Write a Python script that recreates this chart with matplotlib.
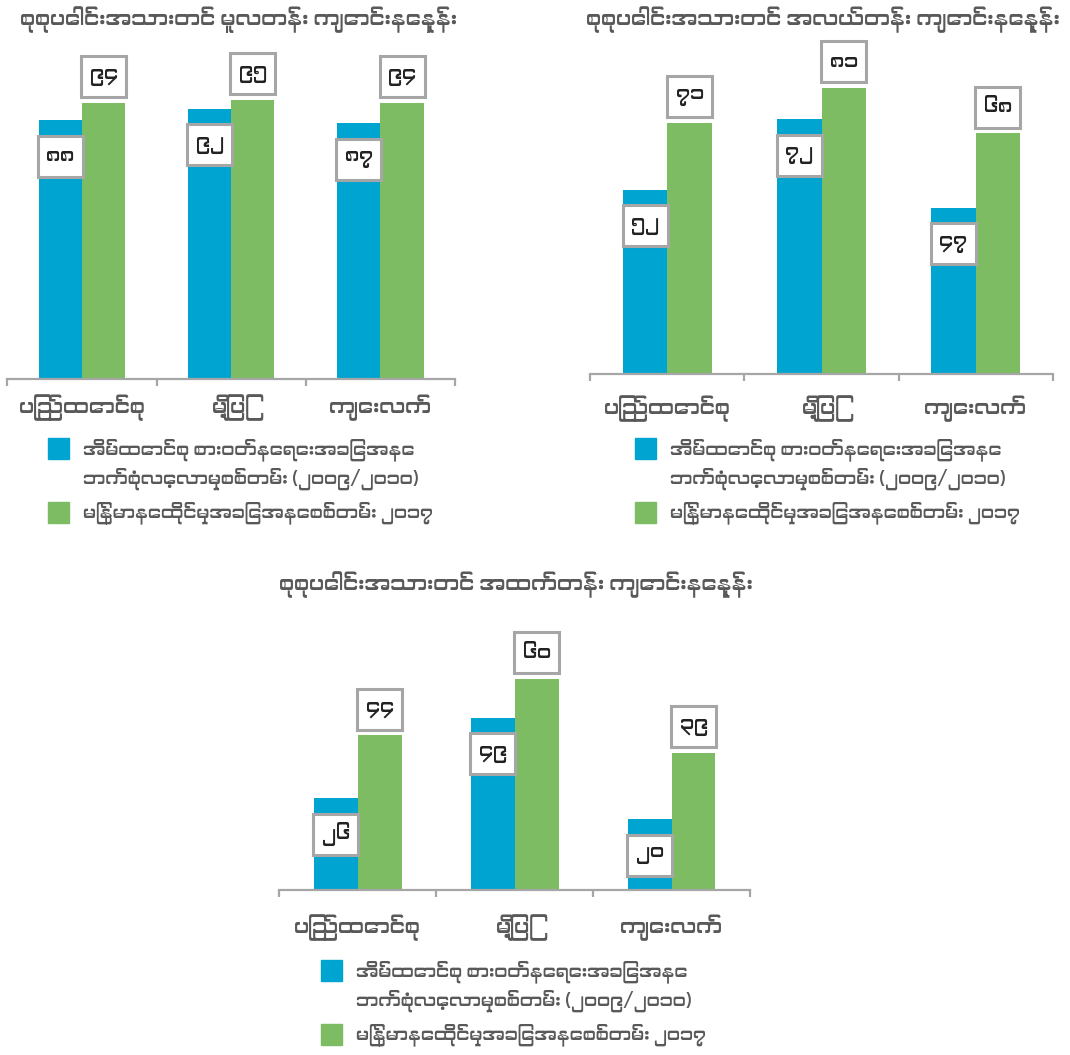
import matplotlib
matplotlib.use("Agg")
import matplotlib.pyplot as plt
from matplotlib import font_manager
from matplotlib.ft2font import FT2Font
from matplotlib.patches import Rectangle
from matplotlib.transforms import Affine2D, ScaledTranslation

# ---------------- data ----------------
categories = ["ပြည်ထောင်စု", "မြို့ပြ", "ကျေးလက်"]
titles = [
    "စုစုပေါင်းအသားတင် မူလတန်း ကျောင်းနေနှုန်း",
    "စုစုပေါင်းအသားတင် အလယ်တန်း ကျောင်းနေနှုန်း",
    "စုစုပေါင်းအသားတင် အထက်တန်း ကျောင်းနေနှုန်း",
]
series_names = [
    "အိမ်ထောင်စု စားဝတ်နေရေးအခြေအနေ\nဘက်စုံလေ့လာမှုစစ်တမ်း (၂၀၀၉/၂၀၁၀)",
    "မြန်မာနေထိုင်မှုအခြေအနေစစ်တမ်း ၂၀၁၇",
]
primary_2010 = [88, 92, 87]
primary_2017 = [94, 95, 94]
middle_2010 = [52, 72, 47]
middle_2017 = [71, 81, 68]
high_2010 = [26, 49, 20]
high_2017 = [44, 60, 39]

# ---------------- font ----------------
def find_font(cp):
    names = []
    for f in font_manager.fontManager.ttflist:
        try:
            cm = FT2Font(f.fname).get_charmap()
        except Exception:
            continue
        if cp in cm:
            names.append(f.name)
    pref = [n for n in names if "Myanmar" in n]
    if pref:
        return pref[0]
    return names[0] if names else None

mm_font = find_font(0x1000)
families = ([mm_font] if mm_font else []) + ["DejaVu Sans"]
plt.rcParams["font.family"] = families

W, H = 1070, 1055
DPI = 100
fig = plt.figure(figsize=(W / DPI, H / DPI), dpi=DPI)

BLUE = "#00a4d0"
GREEN = "#7dbc63"
GRAY = "#a6a6a6"
TXT = "#595959"

MM_DIGITS = str.maketrans("0123456789", "၀၁၂၃၄၅၆၇၈၉")


def fx(x):
    return x / W


def fy(y):
    return 1 - y / H


def draw_chart(left, right, base, top, ymax, bw, vals_a, vals_b, title, title_xy,
               leg_xy, lab_pad):
    ax = fig.add_axes([fx(left), fy(base), fx(right - left), (base - top) / H])
    xs = list(range(len(categories)))
    ax.bar([x - bw / 2 for x in xs], vals_a, width=bw, color=BLUE, zorder=2)
    ax.bar([x + bw / 2 for x in xs], vals_b, width=bw, color=GREEN, zorder=2)
    ax.set_xlim(-0.5, len(categories) - 0.5)
    ax.set_ylim(0, ymax)
    for s in ("top", "left", "right"):
        ax.spines[s].set_visible(False)
    ax.spines["bottom"].set_color(GRAY)
    ax.spines["bottom"].set_linewidth(1.6)
    ax.set_yticks([])
    ax.set_xticks([x - 0.5 for x in range(len(categories) + 1)])
    ax.set_xticklabels([])
    ax.tick_params(axis="x", which="major", direction="out", length=5,
                   width=1.6, color=GRAY)
    ax.set_xticks(xs, minor=True)
    ax.set_xticklabels(categories, minor=True, fontsize=15, color=TXT)
    ax.tick_params(axis="x", which="minor", length=0, pad=lab_pad)

    def label(x, y, v, dy):
        tr = Affine2D() + ScaledTranslation(x, y, ax.transData)
        rect = Rectangle((-22.5, dy - 20.5), 45, 41, transform=tr,
                         facecolor="white", edgecolor=GRAY, linewidth=2.2,
                         clip_on=False, zorder=4)
        ax.add_patch(rect)
        ax.annotate(str(v).translate(MM_DIGITS), xy=(x, y), xytext=(0, dy),
                    textcoords="offset pixels", ha="center", va="center",
                    fontsize=14, color="#222222", zorder=5,
                    annotation_clip=False)

    for x, a, b in zip(xs, vals_a, vals_b):
        label(x - bw / 2, a, a, -36)
        label(x + bw / 2, b, b, 26)

    fig.text(fx(title_xy[0]), fy(title_xy[1]), title, ha="center",
             va="center", fontsize=15, color=TXT)

    lx, ly = leg_xy
    fig.add_artist(Rectangle((fx(lx), fy(ly + 21)), 21 / W, 21 / H,
                             transform=fig.transFigure, color=BLUE))
    fig.add_artist(Rectangle((fx(lx), fy(ly + 85)), 21 / W, 21 / H,
                             transform=fig.transFigure, color=GREEN))
    for i, line in enumerate(series_names[0].split("\n")):
        fig.text(fx(lx + 35), fy(ly + 12 + 29 * i), line, ha="left",
                 va="center", fontsize=13, color=TXT)
    fig.text(fx(lx + 35), fy(ly + 75), series_names[1], ha="left",
             va="center", fontsize=13, color=TXT)
    return ax


draw_chart(7.3, 455, 378.5, 378.5 - 110 * 2.933, 110, 0.29,
           primary_2010, primary_2017, titles[0], (238, 20), (48, 438), 11.5)
draw_chart(590.3, 1052.7, 373.5, 373.5 - 90 * 3.53, 90, 0.29,
           middle_2010, middle_2017, titles[1], (823, 20), (635, 438), 16)
draw_chart(279.3, 750, 889.5, 889.5 - 65 * 3.51, 65, 0.28,
           high_2010, high_2017, titles[2], (516, 585), (321, 960), 18)

fig.savefig("out.png", dpi=DPI, facecolor="white")
